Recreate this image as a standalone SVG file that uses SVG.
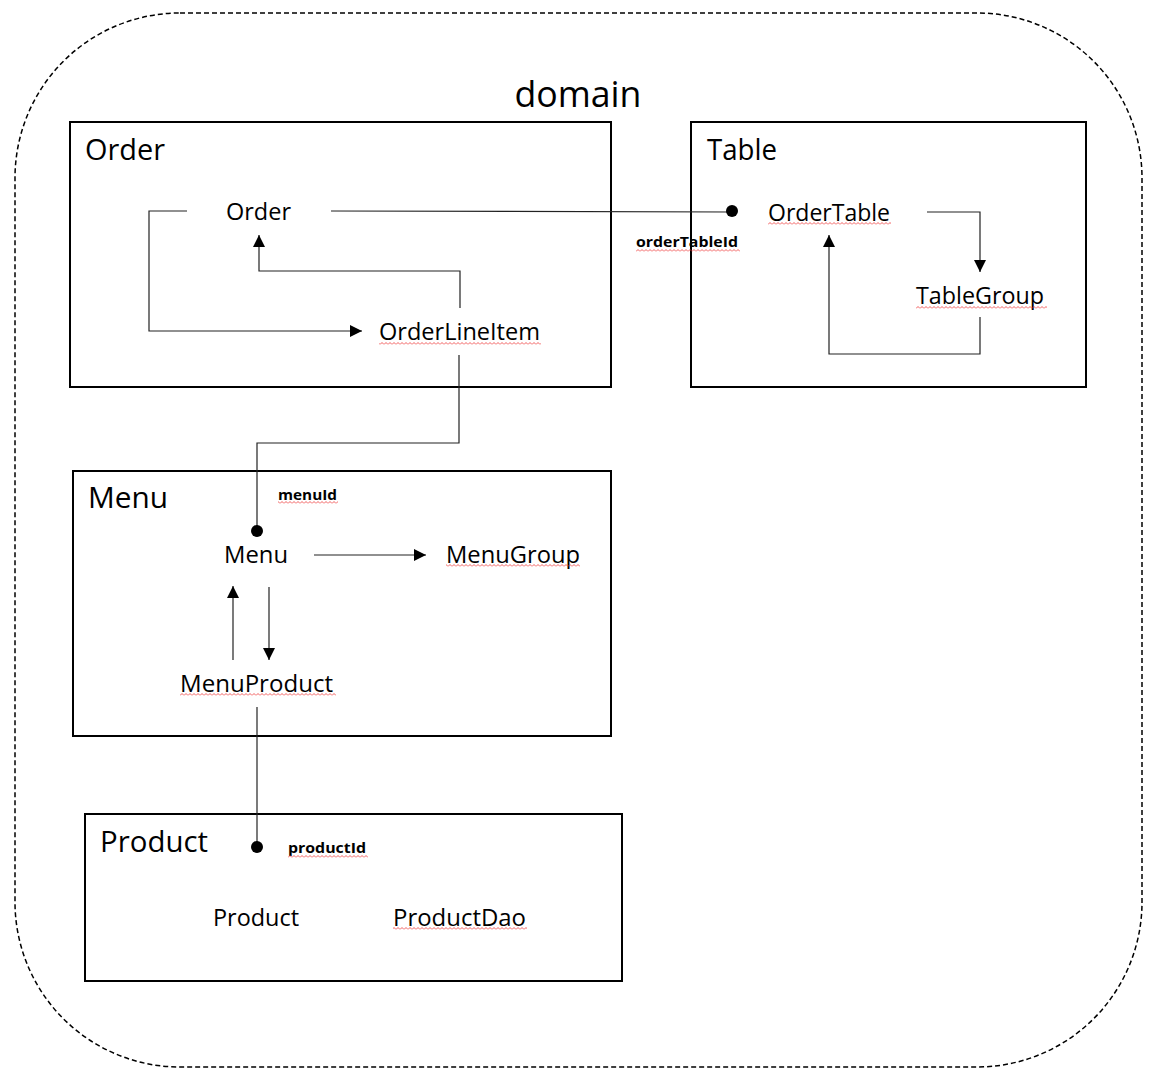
<svg xmlns="http://www.w3.org/2000/svg" width="1153" height="1076" viewBox="0 0 1153 1076">
<style>
.box{fill:none;stroke:#000;stroke-width:2}
.hdr{font-family:"Open Sans","Noto Sans",sans-serif;font-size:29px;fill:#000}
.nd{font-family:"Open Sans","Noto Sans",sans-serif;font-size:23px;fill:#000}
.lbl{font-family:"Open Sans","Noto Sans",sans-serif;font-size:15px;font-weight:bold;fill:#000}
.cn{fill:none;stroke:#222;stroke-width:1.2}
.sq{fill:url(#squiggle)}
</style>
<defs>
<marker id="arr" viewBox="0 0 12 12" refX="12" refY="6" markerWidth="12" markerHeight="12" markerUnits="userSpaceOnUse" orient="auto">
<path d="M0,0 L12,6 L0,12 Z" fill="#000"/>
</marker>
<pattern id="squiggle" patternUnits="userSpaceOnUse" width="4" height="3">
<path d="M0,2.5 L2,0.5 L4,2.5" fill="none" stroke="#e33" stroke-width="0.8"/>
</pattern>
</defs>
<rect width="1153" height="1076" fill="#fff"/>
<g id="domain">
<rect x="15" y="13" width="1127" height="1054" rx="165" ry="165" fill="none" stroke="#000" stroke-width="1.5" stroke-dasharray="5,3"/>
<text x="578" y="107" font-family="Open Sans,Noto Sans,sans-serif" font-size="36" text-anchor="middle" textLength="127" lengthAdjust="spacingAndGlyphs">domain</text>
</g>
<g id="order-pkg">
<rect class="box" x="70" y="122" width="541" height="265"/>
<text class="hdr" x="85" y="160" textLength="80" lengthAdjust="spacingAndGlyphs">Order</text>
</g>
<g id="table-pkg">
<rect class="box" x="691" y="122" width="395" height="265"/>
<text class="hdr" x="707" y="160" textLength="70" lengthAdjust="spacingAndGlyphs">Table</text>
</g>
<g id="menu-pkg">
<rect class="box" x="73" y="471" width="538" height="265"/>
<text class="hdr" x="88" y="508" textLength="80" lengthAdjust="spacingAndGlyphs">Menu</text>
</g>
<g id="product-pkg">
<rect class="box" x="85" y="814" width="537" height="167"/>
<text class="hdr" x="100" y="852" textLength="108" lengthAdjust="spacingAndGlyphs">Product</text>
</g>
<g id="connectors">
<path class="cn" d="M331,211 L732,212"/>
<circle cx="732" cy="211" r="6" fill="#000"/>
<path class="cn" d="M187,211 L149,211 L149,331 L362,331" marker-end="url(#arr)"/>
<path class="cn" d="M460,308 L460,271 L259,271 L259,235" marker-end="url(#arr)"/>
<path class="cn" d="M459,355 L459,443 L257,443 L257,531"/>
<circle cx="257" cy="531" r="6" fill="#000"/>
<path class="cn" d="M927,212 L980,212 L980,272" marker-end="url(#arr)"/>
<path class="cn" d="M980,317 L980,354 L829,354 L829,235" marker-end="url(#arr)"/>
<path class="cn" d="M314,555 L426,555" marker-end="url(#arr)"/>
<path class="cn" d="M233,660 L233,586" marker-end="url(#arr)"/>
<path class="cn" d="M269,587 L269,660" marker-end="url(#arr)"/>
<path class="cn" d="M257,707 L257,847"/>
<circle cx="257" cy="847" r="6" fill="#000"/>
<text class="lbl" x="636" y="247" textLength="102" lengthAdjust="spacingAndGlyphs">orderTableId</text>
<rect class="sq" x="636" y="249" width="104" height="3"/>
<text class="lbl" x="278" y="500" textLength="59" lengthAdjust="spacingAndGlyphs">menuId</text>
<rect class="sq" x="278" y="501" width="60" height="3"/>
<text class="lbl" x="288" y="853" textLength="78" lengthAdjust="spacingAndGlyphs">productId</text>
<rect class="sq" x="288" y="855" width="80" height="3"/>
</g>
<g id="node-order">
<text class="nd" x="226" y="220" textLength="65" lengthAdjust="spacingAndGlyphs">Order</text>
</g>
<g id="node-orderlineitem">
<text class="nd" x="379" y="340" textLength="161" lengthAdjust="spacingAndGlyphs">OrderLineItem</text>
<rect class="sq" x="379" y="342" width="162" height="3"/>
</g>
<g id="node-ordertable">
<text class="nd" x="768" y="221" textLength="122" lengthAdjust="spacingAndGlyphs">OrderTable</text>
<rect class="sq" x="768" y="222" width="123" height="3"/>
</g>
<g id="node-tablegroup">
<text class="nd" x="916" y="304" textLength="128" lengthAdjust="spacingAndGlyphs">TableGroup</text>
<rect class="sq" x="916" y="306" width="131" height="3"/>
</g>
<g id="node-menu">
<text class="nd" x="224" y="563" textLength="64" lengthAdjust="spacingAndGlyphs">Menu</text>
</g>
<g id="node-menugroup">
<text class="nd" x="446" y="563" textLength="134" lengthAdjust="spacingAndGlyphs">MenuGroup</text>
<rect class="sq" x="446" y="564" width="134" height="3"/>
</g>
<g id="node-menuproduct">
<text class="nd" x="180" y="692" textLength="153" lengthAdjust="spacingAndGlyphs">MenuProduct</text>
<rect class="sq" x="180" y="693" width="156" height="3"/>
</g>
<g id="node-product">
<text class="nd" x="213" y="926" textLength="86" lengthAdjust="spacingAndGlyphs">Product</text>
</g>
<g id="node-productdao">
<text class="nd" x="393" y="926" textLength="133" lengthAdjust="spacingAndGlyphs">ProductDao</text>
<rect class="sq" x="393" y="927" width="134" height="3"/>
</g>
</svg>
